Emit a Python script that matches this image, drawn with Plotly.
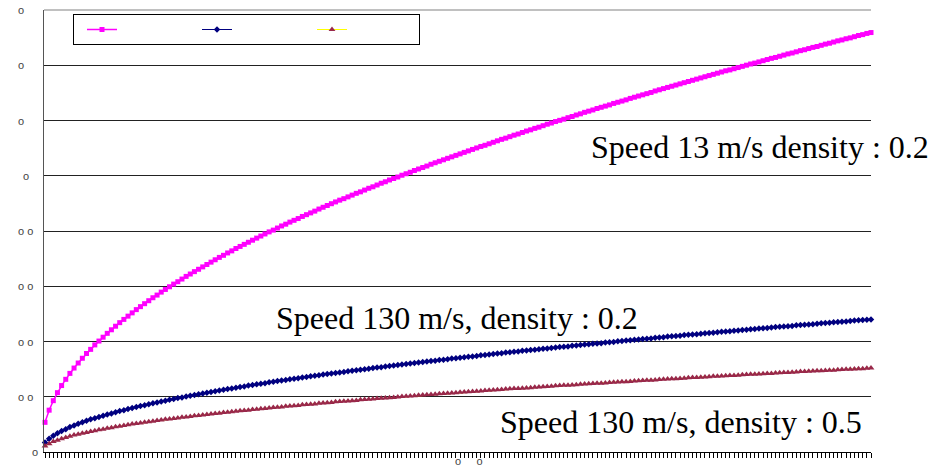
import plotly.graph_objects as go

# ---------------- data ----------------
categories = list(range(1, 201))

speed13_d02 = [
    1.00, 1.41, 1.73, 2.00, 2.24, 2.45, 2.65, 2.83, 3.00, 3.16,
    3.32, 3.46, 3.61, 3.74, 3.87, 4.00, 4.12, 4.24, 4.36, 4.47,
    4.58, 4.69, 4.80, 4.90, 5.00, 5.10, 5.20, 5.29, 5.39, 5.48,
    5.57, 5.66, 5.74, 5.83, 5.92, 6.00, 6.08, 6.16, 6.24, 6.32,
    6.40, 6.48, 6.56, 6.63, 6.71, 6.78, 6.86, 6.93, 7.00, 7.07,
    7.14, 7.21, 7.28, 7.35, 7.42, 7.48, 7.55, 7.62, 7.68, 7.75,
    7.81, 7.87, 7.94, 8.00, 8.06, 8.12, 8.19, 8.25, 8.31, 8.37,
    8.43, 8.49, 8.54, 8.60, 8.66, 8.72, 8.77, 8.83, 8.89, 8.94,
    9.00, 9.06, 9.11, 9.17, 9.22, 9.27, 9.33, 9.38, 9.43, 9.49,
    9.54, 9.59, 9.64, 9.70, 9.75, 9.80, 9.85, 9.90, 9.95, 10.00,
    10.05, 10.10, 10.15, 10.20, 10.25, 10.30, 10.34, 10.39, 10.44, 10.49,
    10.54, 10.58, 10.63, 10.68, 10.72, 10.77, 10.82, 10.86, 10.91, 10.95,
    11.00, 11.05, 11.09, 11.14, 11.18, 11.22, 11.27, 11.31, 11.36, 11.40,
    11.45, 11.49, 11.53, 11.58, 11.62, 11.66, 11.70, 11.75, 11.79, 11.83,
    11.87, 11.92, 11.96, 12.00, 12.04, 12.08, 12.12, 12.17, 12.21, 12.25,
    12.29, 12.33, 12.37, 12.41, 12.45, 12.49, 12.53, 12.57, 12.61, 12.65,
    12.69, 12.73, 12.77, 12.81, 12.85, 12.88, 12.92, 12.96, 13.00, 13.04,
    13.08, 13.11, 13.15, 13.19, 13.23, 13.27, 13.30, 13.34, 13.38, 13.42,
    13.45, 13.49, 13.53, 13.56, 13.60, 13.64, 13.67, 13.71, 13.75, 13.78,
    13.82, 13.86, 13.89, 13.93, 13.96, 14.00, 14.04, 14.07, 14.11, 14.14,
]

speed130_d02 = [
    0.32, 0.45, 0.55, 0.63, 0.71, 0.77, 0.84, 0.89, 0.95, 1.00,
    1.05, 1.10, 1.14, 1.18, 1.22, 1.26, 1.30, 1.34, 1.38, 1.41,
    1.45, 1.48, 1.52, 1.55, 1.58, 1.61, 1.64, 1.67, 1.70, 1.73,
    1.76, 1.79, 1.82, 1.84, 1.87, 1.90, 1.92, 1.95, 1.97, 2.00,
    2.02, 2.05, 2.07, 2.10, 2.12, 2.14, 2.17, 2.19, 2.21, 2.24,
    2.26, 2.28, 2.30, 2.32, 2.35, 2.37, 2.39, 2.41, 2.43, 2.45,
    2.47, 2.49, 2.51, 2.53, 2.55, 2.57, 2.59, 2.61, 2.63, 2.65,
    2.66, 2.68, 2.70, 2.72, 2.74, 2.76, 2.77, 2.79, 2.81, 2.83,
    2.85, 2.86, 2.88, 2.90, 2.92, 2.93, 2.95, 2.97, 2.98, 3.00,
    3.02, 3.03, 3.05, 3.07, 3.08, 3.10, 3.11, 3.13, 3.15, 3.16,
    3.18, 3.19, 3.21, 3.22, 3.24, 3.26, 3.27, 3.29, 3.30, 3.32,
    3.33, 3.35, 3.36, 3.38, 3.39, 3.41, 3.42, 3.44, 3.45, 3.46,
    3.48, 3.49, 3.51, 3.52, 3.54, 3.55, 3.56, 3.58, 3.59, 3.61,
    3.62, 3.63, 3.65, 3.66, 3.67, 3.69, 3.70, 3.71, 3.73, 3.74,
    3.76, 3.77, 3.78, 3.79, 3.81, 3.82, 3.83, 3.85, 3.86, 3.87,
    3.89, 3.90, 3.91, 3.92, 3.94, 3.95, 3.96, 3.97, 3.99, 4.00,
    4.01, 4.02, 4.04, 4.05, 4.06, 4.07, 4.09, 4.10, 4.11, 4.12,
    4.14, 4.15, 4.16, 4.17, 4.18, 4.20, 4.21, 4.22, 4.23, 4.24,
    4.25, 4.27, 4.28, 4.29, 4.30, 4.31, 4.32, 4.34, 4.35, 4.36,
    4.37, 4.38, 4.39, 4.40, 4.42, 4.43, 4.44, 4.45, 4.46, 4.47,
]

speed130_d05 = [
    0.20, 0.28, 0.35, 0.40, 0.45, 0.49, 0.53, 0.57, 0.60, 0.63,
    0.66, 0.69, 0.72, 0.75, 0.77, 0.80, 0.82, 0.85, 0.87, 0.89,
    0.92, 0.94, 0.96, 0.98, 1.00, 1.02, 1.04, 1.06, 1.08, 1.10,
    1.11, 1.13, 1.15, 1.17, 1.18, 1.20, 1.22, 1.23, 1.25, 1.26,
    1.28, 1.30, 1.31, 1.33, 1.34, 1.36, 1.37, 1.39, 1.40, 1.41,
    1.43, 1.44, 1.46, 1.47, 1.48, 1.50, 1.51, 1.52, 1.54, 1.55,
    1.56, 1.57, 1.59, 1.60, 1.61, 1.62, 1.64, 1.65, 1.66, 1.67,
    1.69, 1.70, 1.71, 1.72, 1.73, 1.74, 1.76, 1.77, 1.78, 1.79,
    1.80, 1.81, 1.82, 1.83, 1.84, 1.85, 1.87, 1.88, 1.89, 1.90,
    1.91, 1.92, 1.93, 1.94, 1.95, 1.96, 1.97, 1.98, 1.99, 2.00,
    2.01, 2.02, 2.03, 2.04, 2.05, 2.06, 2.07, 2.08, 2.09, 2.10,
    2.11, 2.12, 2.13, 2.14, 2.14, 2.15, 2.16, 2.17, 2.18, 2.19,
    2.20, 2.21, 2.22, 2.23, 2.24, 2.25, 2.25, 2.26, 2.27, 2.28,
    2.29, 2.30, 2.31, 2.32, 2.32, 2.33, 2.34, 2.35, 2.36, 2.37,
    2.37, 2.38, 2.39, 2.40, 2.41, 2.42, 2.42, 2.43, 2.44, 2.45,
    2.46, 2.47, 2.47, 2.48, 2.49, 2.50, 2.51, 2.51, 2.52, 2.53,
    2.54, 2.55, 2.55, 2.56, 2.57, 2.58, 2.58, 2.59, 2.60, 2.61,
    2.62, 2.62, 2.63, 2.64, 2.65, 2.65, 2.66, 2.67, 2.68, 2.68,
    2.69, 2.70, 2.71, 2.71, 2.72, 2.73, 2.74, 2.74, 2.75, 2.76,
    2.76, 2.77, 2.78, 2.79, 2.79, 2.80, 2.81, 2.81, 2.82, 2.83,
]

y_tick_labels = ["o", "o o", "o o", "o o", "o o", "o", "o", "o", "o"]
x_axis_title = "o\u00a0\u00a0\u00a0\u00a0\u00a0o"
series_labels = ["Speed 13 m/s density : 0.2",
                 "Speed 130 m/s, density : 0.2",
                 "Speed 130 m/s, density : 0.5"]

# ---------------- layout constants ----------------
W, H = 944, 466
PL, PR, PT, PB = 44, 871, 10, 452   # plot area in page pixels
ML, MR, MT, MB = PL, W - PR, PT, H - PB
PW, PH = PR - PL, PB - PT
Y_MAX = 14.9
GRID = Y_MAX / 8
y_grid_vals = [GRID * k for k in range(9)]


def px_x(px):
    return (px - PL) / PW


def px_y(py):
    return (PB - py) / PH


fig = go.Figure()

fig.add_trace(go.Scatter(
    x=categories, y=speed13_d02, name="", mode="lines+markers",
    line=dict(color="#ff00ff", width=1.5),
    marker=dict(symbol="square", size=5, color="#ff00ff"),
    cliponaxis=False))
fig.add_trace(go.Scatter(
    x=categories, y=speed130_d02, name="", mode="lines+markers",
    line=dict(color="#000080", width=1),
    marker=dict(symbol="diamond", size=5, color="#000080"),
    cliponaxis=False))
fig.add_trace(go.Scatter(
    x=categories, y=speed130_d05, name="", mode="lines+markers",
    line=dict(color="#ffff00", width=1),
    marker=dict(symbol="triangle-up", size=6, color="#99284a"),
    cliponaxis=False))

annotations = []
# y tick labels (garbled glyphs in the original)
label_left_px = [31, 17, 17, 17, 17, 22, 17, 17, 17]
for val, txt, lx in zip(y_grid_vals, y_tick_labels, label_left_px):
    annotations.append(dict(
        text=txt, xref="paper", x=0, xanchor="left", xshift=lx - PL - 1,
        yref="y", y=val, yanchor="middle", showarrow=False,
        font=dict(family="Liberation Sans", size=11, color="#444")))

# x axis title
annotations.append(dict(
    text=x_axis_title, xref="paper", x=px_x(469), xanchor="center",
    yref="paper", y=0, yanchor="top", yshift=-1, showarrow=False,
    font=dict(family="Liberation Sans", size=11, color="#444")))

# series labels
label_pos = [(589, 147), (274, 318), (498, 422)]
for txt, (lx, ly) in zip(series_labels, label_pos):
    annotations.append(dict(
        text=txt, xref="paper", x=px_x(lx), xanchor="left",
        yref="paper", y=px_y(ly), yanchor="middle", showarrow=False,
        font=dict(family="Liberation Serif", size=32, color="#000")))

fig.update_layout(
    width=W, height=H,
    margin=dict(l=ML, r=MR, t=MT, b=MB, pad=0),
    paper_bgcolor="white", plot_bgcolor="white",
    showlegend=True,
    legend=dict(orientation="h", x=px_x(73), y=px_y(14),
                xanchor="left", yanchor="top",
                bordercolor="#000", borderwidth=1, bgcolor="white",
                entrywidth=62, entrywidthmode="pixels", itemwidth=30,
                indentation=8,
                font=dict(size=8), traceorder="normal"),
    annotations=annotations,
    shapes=[dict(type="line", xref="paper", yref="paper",
                 x0=0, x1=1, y0=1, y1=1,
                 line=dict(color="#c0c0c0", width=2))],
    xaxis=dict(range=[0.76, 200], showgrid=False, zeroline=False,
               showline=True, linecolor="#000", linewidth=1,
               ticks="outside", tick0=1, dtick=1, ticklen=5, tickwidth=1,
               tickcolor="#000", showticklabels=False),
    yaxis=dict(range=[0, Y_MAX], tickvals=y_grid_vals, showticklabels=False,
               showgrid=True, gridcolor="#222", gridwidth=1, zeroline=False,
               showline=True, linecolor="#555", linewidth=1, ticks=""),
)

fig.write_html("out.html",
               config={"displayModeBar": False},
               post_script="document.body.style.margin='0';")
